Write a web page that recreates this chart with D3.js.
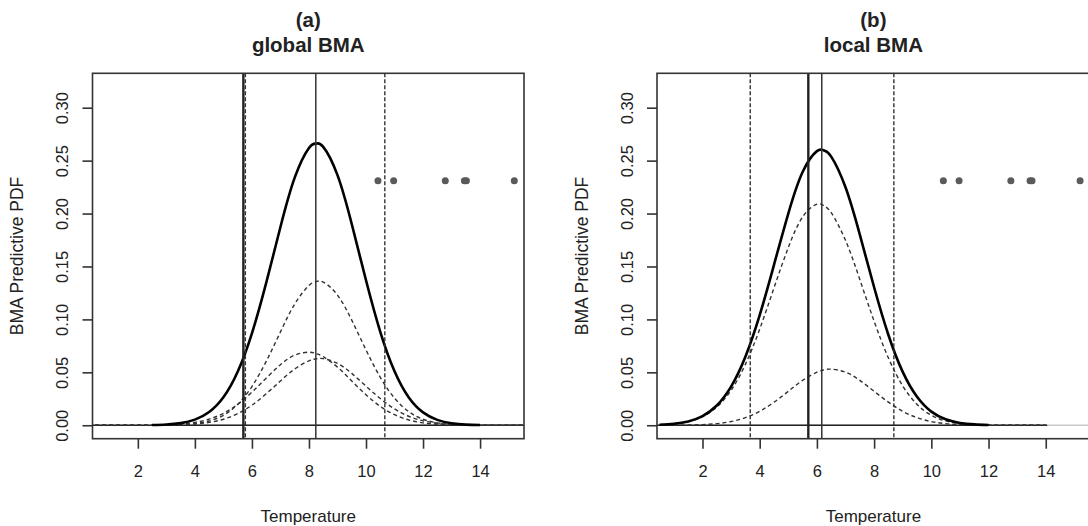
<!DOCTYPE html>
<meta charset="utf-8">
<html>
<script src="https://d3js.org/d3.v7.min.js"></script>
<style>
  body { margin: 0; background: #fff; }
  text { font-family: "Liberation Sans", Arial, sans-serif; fill: #222; }
</style>
<div id="fig"></div>

<script>

// ---- data ----
var xTicks = [2, 4, 6, 8, 10, 12, 14];
var yTicks = [0, 0.05, 0.10, 0.15, 0.20, 0.25, 0.30];

// ensemble member forecasts (grey dots), same for both panels
var ensemble = [10.42, 10.97, 12.78, 13.45, 13.52, 15.2];
var ensembleY = 0.231;

// (a) global BMA
var globalX    = [0.5, 1, 1.5, 2, 2.5, 3, 3.5, 4, 4.5, 5, 5.5, 6, 6.5, 7, 7.5, 8, 8.25, 8.5, 9, 9.5, 10, 10.5, 11, 11.5, 12, 12.5, 13, 13.5, 14, 14.5, 15, 15.5];
var globalBMA  = [null, null, null, null, 0.0002, 0.0007, 0.002, 0.0053, 0.0125, 0.0264, 0.0505, 0.0869, 0.1345, 0.1873, 0.2339, 0.262, 0.2661, 0.263, 0.2363, 0.1901, 0.137, 0.0883, 0.051, 0.0263, 0.0122, 0.0051, 0.0019, 0.0006, 0.0002, null, null, null];
var globalM1   = [0, 0, 0, 0, 0, 0.0002, 0.0005, 0.0015, 0.004, 0.0094, 0.0197, 0.0366, 0.0603, 0.0882, 0.1145, 0.1321, 0.1357, 0.1353, 0.123, 0.0993, 0.0712, 0.0453, 0.0256, 0.0128, 0.0057, 0.0023, 0.0008, 0.0002, 0.0001, 0, 0, 0];
var globalM2   = [0, 0, 0, 0, 0.0001, 0.0004, 0.0011, 0.0027, 0.0058, 0.0113, 0.0198, 0.0313, 0.0445, 0.0572, 0.0662, 0.069, 0.0677, 0.0648, 0.0549, 0.0418, 0.0288, 0.0178, 0.01, 0.005, 0.0023, 0.0009, 0.0003, 0.0001, 0, 0, 0, 0];
var globalM3   = [0, 0, 0, 0, 0, 0.0002, 0.0004, 0.0011, 0.0027, 0.0057, 0.011, 0.019, 0.0297, 0.0419, 0.0532, 0.0609, 0.0627, 0.0629, 0.0584, 0.049, 0.037, 0.0252, 0.0154, 0.0085, 0.0042, 0.0019, 0.0008, 0.0003, 0.0001, 0, 0, 0];
var globalVLines = {obs: 5.7, median: 8.24, lower: 5.77, upper: 10.66};

// (b) local BMA
var localX   = [0.5, 1, 1.5, 2, 2.5, 3, 3.5, 4, 4.5, 5, 5.5, 6, 6.25, 6.5, 7, 7.5, 8, 8.5, 9, 9.5, 10, 10.5, 11, 11.5, 12, 12.5, 13, 13.5, 14];
var localBMA = [0.0005, 0.0014, 0.0036, 0.0087, 0.0187, 0.0365, 0.0647, 0.104, 0.1516, 0.2, 0.2392, 0.259, 0.2596, 0.2538, 0.2248, 0.1801, 0.1304, 0.0853, 0.0504, 0.0269, 0.0129, 0.0056, 0.0022, 0.0008, 0.0003, null, null, null, null];
var localM1  = [0.0005, 0.0013, 0.0034, 0.0081, 0.0172, 0.033, 0.0575, 0.0908, 0.1298, 0.1679, 0.1968, 0.2089, 0.2073, 0.2008, 0.1747, 0.1377, 0.0983, 0.0635, 0.0372, 0.0197, 0.0094, 0.0041, 0.0016, 0.0006, 0.0002, 0.0001, 0, 0, 0];
var localM2  = [0, 0.0001, 0.0002, 0.0006, 0.0015, 0.0035, 0.0072, 0.0132, 0.0218, 0.0321, 0.0424, 0.0501, 0.0523, 0.053, 0.0501, 0.0424, 0.0321, 0.0218, 0.0132, 0.0072, 0.0035, 0.0015, 0.0006, 0.0002, 0.0001, 0, 0, 0, 0];
var localVLines = {obs: 5.7, median: 6.17, lower: 3.67, upper: 8.69};

// where the dark zero line stops (rest is pale)
var zeroLineEnd = [15.54, 14.05];

// ---- layout ----
var width = 1088, height = 526;
var boxTop = 73.3, boxBottom = 438.7;
var xDomain = [0.41, 15.54], yDomain = [-0.0127, 0.3325];

var svg = d3.select("#fig").append("svg")
    .attr("width", width)
    .attr("height", height);

function drawPanel(p) {
  var x = d3.scaleLinear().domain(xDomain).range([p.left, p.right]);
  var y = d3.scaleLinear().domain(yDomain).range([boxBottom, boxTop]);
  var g = svg.append("g");
  var cx = (p.left + p.right) / 2;

  // titles
  g.append("text").attr("x", cx).attr("y", 27).attr("text-anchor", "middle")
    .style("font-weight", "bold").style("font-size", "20.5px").text(p.tag);
  g.append("text").attr("x", cx).attr("y", 52).attr("text-anchor", "middle")
    .style("font-weight", "bold").style("font-size", "20.5px").text(p.title);

  // zero line
  g.append("line")
    .attr("x1", x(xDomain[0])).attr("x2", x(xDomain[1]))
    .attr("y1", y(0)).attr("y2", y(0))
    .attr("stroke", "#c8c8c8").attr("stroke-width", 1.5);
  g.append("line")
    .attr("x1", x(xDomain[0])).attr("x2", x(p.zeroEnd))
    .attr("y1", y(0)).attr("y2", y(0))
    .attr("stroke", "#222").attr("stroke-width", 1.5);

  // member densities (dashed)
  p.members.forEach(function(m) {
    var pts = p.xs.map(function(v, i) { return [v, m[i]]; });
    g.append("path")
      .datum(pts)
      .attr("fill", "none")
      .attr("stroke", "#333")
      .attr("stroke-width", 1.4)
      .attr("stroke-dasharray", "4,3")
      .attr("d", d3.line()
        .x(function(d) { return x(d[0]); })
        .y(function(d) { return y(d[1]); })
        .curve(d3.curveNatural));
  });

  // BMA pdf (thick)
  var bpts = p.xs.map(function(v, i) { return [v, p.bma[i]]; })
    .filter(function(d) { return d[1] !== null; });
  g.append("path")
    .datum(bpts)
    .attr("fill", "none")
    .attr("stroke", "#000")
    .attr("stroke-width", 2.6)
    .attr("d", d3.line()
      .x(function(d) { return x(d[0]); })
      .y(function(d) { return y(d[1]); })
      .curve(d3.curveNatural));

  // vertical lines
  var vl = [
    {v: p.vlines.lower, w: 1.4, dash: "4,2", c: "#333"},
    {v: p.vlines.upper, w: 1.4, dash: "4,2", c: "#333"},
    {v: p.vlines.median, w: 1.5, dash: null, c: "#333"},
    {v: p.vlines.obs, w: 2.4, dash: null, c: "#222"}
  ];
  g.selectAll("line.vl").data(vl).enter().append("line")
    .attr("class", "vl")
    .attr("x1", function(d) { return x(d.v); })
    .attr("x2", function(d) { return x(d.v); })
    .attr("y1", boxTop).attr("y2", boxBottom)
    .attr("stroke", function(d) { return d.c; })
    .attr("stroke-width", function(d) { return d.w; })
    .attr("stroke-dasharray", function(d) { return d.dash; });

  // ensemble dots
  g.selectAll("circle").data(ensemble).enter().append("circle")
    .attr("cx", function(d) { return x(d); })
    .attr("cy", y(ensembleY))
    .attr("r", 3.5)
    .attr("fill", "#5a5a5a");

  // box
  g.append("rect")
    .attr("x", p.left).attr("y", boxTop)
    .attr("width", p.right - p.left).attr("height", boxBottom - boxTop)
    .attr("fill", "none").attr("stroke", "#333").attr("stroke-width", 1.6);

  // x axis
  var xa = g.append("g")
    .attr("transform", "translate(0," + boxBottom + ")")
    .call(d3.axisBottom(x).tickValues(xTicks).tickSize(10).tickPadding(17));
  xa.select(".domain").remove();
  xa.selectAll("line").attr("stroke", "#333").attr("stroke-width", 1.6);
  xa.selectAll("text").style("font-size", "16.5px").attr("fill", "#222").style("font-family", null);

  // y axis
  var ya = g.append("g")
    .attr("transform", "translate(" + p.left + ",0)")
    .call(d3.axisLeft(y).tickValues(yTicks).tickSize(10).tickFormat(d3.format(".2f")));
  ya.select(".domain").remove();
  ya.selectAll("line").attr("stroke", "#333").attr("stroke-width", 1.6);
  ya.selectAll("text")
    .attr("x", null).attr("dy", "0.35em")
    .attr("transform", "translate(-30,0) rotate(-90)")
    .attr("text-anchor", "middle")
    .style("font-size", "16.5px").attr("fill", "#222").style("font-family", null);

  // axis labels
  g.append("text").attr("x", cx).attr("y", 522).attr("text-anchor", "middle")
    .style("font-size", "17px").text("Temperature");
  g.append("text")
    .attr("transform", "translate(" + (p.left - 75.5) + "," + ((boxTop + boxBottom) / 2) + ") rotate(-90)")
    .attr("dy", "0.35em")
    .attr("text-anchor", "middle")
    .style("font-size", "17.5px").text("BMA Predictive PDF");
}

drawPanel({
  left: 92.5, right: 524, tag: "(a)", title: "global BMA",
  xs: globalX, bma: globalBMA, members: [globalM1, globalM2, globalM3],
  vlines: globalVLines, zeroEnd: zeroLineEnd[0]
});
drawPanel({
  left: 657, right: 1089.8, tag: "(b)", title: "local BMA",
  xs: localX, bma: localBMA, members: [localM1, localM2],
  vlines: localVLines, zeroEnd: zeroLineEnd[1]
});

</script>
</html>
